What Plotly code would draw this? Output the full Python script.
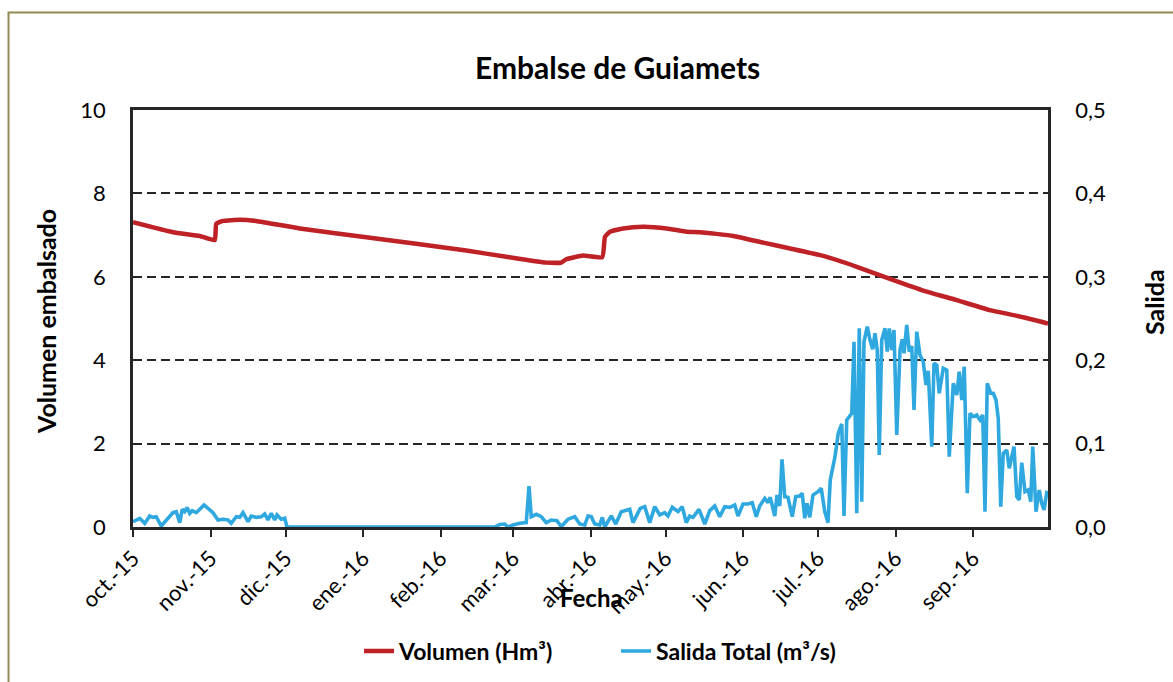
import pandas as pd
import plotly.graph_objects as go

# ---------------- data ----------------
start_date = "2015-10-01"

# Volumen embalsado (Hm3): day offset from 1-Oct-2015 and value
volumen_day = [0, 16, 26.7, 32.7, 33.3, 36, 42.7, 49.3, 66.7, 93.3, 133.3, 149.3,
               165.3, 171.3, 173.3, 180, 187.7, 188.8, 190.8, 196.1, 204.1, 213.5,
               221.5, 226.8, 240.1, 252.1, 262.8, 276.1, 289.5, 302.8, 316.1,
               329.5, 342.8, 356.1, 366]
volumen_val = [7.31, 7.07, 6.98, 6.88, 7.27, 7.34, 7.37, 7.34, 7.16, 6.95, 6.63, 6.48,
               6.34, 6.34, 6.42, 6.51, 6.47, 6.96, 7.08, 7.16, 7.20, 7.16,
               7.08, 7.07, 6.98, 6.82, 6.68, 6.50, 6.24, 5.95, 5.67,
               5.44, 5.20, 5.03, 4.88]

# Salida total (m3/s): day offset from 1-Oct-2015 and value
salida_day = [
    0, 2.7, 4.7, 6.7, 8.0, 9.3, 11.3, 13.3, 16.0, 17.3, 18.7, 19.7, 20.7, 21.6, 22.7,
    23.7, 25.3, 26.7, 28.4, 30.0, 32.0, 34.0, 36.0, 38.0, 39.3, 41.3, 42.7, 44.0, 46.0,
    47.3, 49.3, 51.3, 52.7, 54.0, 55.3, 56.7, 57.6, 59.3, 60.7, 61.6,
    144.7, 146.7, 148.7, 150.0, 152.0, 154.7, 157.3, 158.4, 159.3, 161.3, 163.3, 165.3,
    167.3, 169.6, 171.3, 174.0, 176.7, 178.7, 180.7, 182.0, 183.3, 184.7, 186.7, 187.7,
    188.7, 191.3, 193.1, 195.3, 197.3, 198.7, 200.0, 202.9, 204.7, 206.7, 208.7, 210.7,
    212.7, 214.0, 215.7, 218.0, 219.7, 221.3, 222.7, 224.0, 226.4, 228.7, 230.7, 232.7,
    234.7, 236.7, 238.7, 240.7, 242.0, 244.0, 246.0, 247.7, 249.3, 250.7, 252.7, 254.0,
    254.9, 256.7, 257.6, 258.7, 259.6, 260.7, 262.0, 263.7, 265.1, 266.7, 267.7, 268.7,
    269.6, 270.7, 272.0, 274.0, 275.3, 276.7, 278.0, 278.9, 280.8, 282.1, 283.5, 284.4,
    285.5, 287.5, 288.4, 289.5, 290.5, 291.5, 292.4, 293.7, 294.8, 295.9, 296.8, 297.7,
    298.5, 299.5, 300.8, 301.7, 302.5, 303.5, 304.4, 305.5, 306.8, 307.7, 308.4, 309.5,
    310.5, 311.5, 312.4, 313.5, 314.8, 316.1, 317.2, 318.1, 319.5, 320.4, 321.5, 322.5,
    324.1, 325.5, 326.5, 328.1, 329.5, 330.5, 331.5, 332.5, 333.7, 334.8, 336.1, 337.5,
    338.8, 339.9, 340.8, 341.7, 343.1, 344.1, 345.2, 346.1, 347.1, 348.1, 349.5, 350.5,
    352.4, 353.5, 354.5, 355.5, 356.8, 358.1, 359.1, 359.9, 361.2, 362.5, 363.5, 364.4,
    365.5, 366.0]
salida_val = [
    0.0064, 0.0104, 0.0044, 0.0132, 0.0116, 0.0124, 0.0012, 0.0084, 0.0172, 0.0184, 0.0052,
    0.0212, 0.0184, 0.0232, 0.0164, 0.0196, 0.0172, 0.0212, 0.0264, 0.0224, 0.0172, 0.0084,
    0.0092, 0.0084, 0.0044, 0.0124, 0.0116, 0.0172, 0.0064, 0.0132, 0.0116, 0.0124, 0.0156,
    0.0084, 0.0164, 0.0084, 0.0144, 0.0092, 0.0104, 0.0,
    0.0, 0.0030, 0.0036, 0.0, 0.0024, 0.0044, 0.0052, 0.0490, 0.0124, 0.0152, 0.0124, 0.0052,
    0.0084, 0.0076, 0.0004, 0.0092, 0.0124, 0.0036, 0.0024, 0.0132, 0.0124, 0.0036, 0.0024,
    0.0116, 0.0, 0.0132, 0.0036, 0.0184, 0.0196, 0.0212, 0.0052, 0.0224, 0.0244, 0.0052,
    0.0244, 0.0144, 0.0172, 0.0132, 0.0236, 0.0184, 0.0244, 0.0052, 0.0132, 0.0116, 0.0212,
    0.0036, 0.0196, 0.0252, 0.0124, 0.0244, 0.0236, 0.0264, 0.0132, 0.0276, 0.0276, 0.0292,
    0.0124, 0.0252, 0.0344, 0.0292, 0.0356, 0.0132, 0.0384, 0.0252, 0.0812, 0.0364, 0.0356,
    0.0124, 0.0364, 0.0372, 0.0404, 0.0104, 0.0284, 0.0116, 0.0384, 0.0424, 0.0464, 0.0184,
    0.0052, 0.0564, 0.0843, 0.1124, 0.1235, 0.0132, 0.1283, 0.1363, 0.2222, 0.0164, 0.2382,
    0.0303, 0.2222, 0.2402, 0.2242, 0.2131, 0.2322, 0.2122, 0.0863, 0.2242, 0.2382, 0.2102,
    0.2382, 0.2122, 0.2362, 0.1103, 0.2122, 0.2251, 0.2083, 0.2422, 0.2102, 0.2170, 0.1403,
    0.2342, 0.2062, 0.1982, 0.1703, 0.1874, 0.0963, 0.1963, 0.1942, 0.1603, 0.1903, 0.1882,
    0.0843, 0.1723, 0.1583, 0.1862, 0.1523, 0.1922, 0.0404, 0.1363, 0.1323, 0.1343, 0.1283,
    0.1343, 0.0184, 0.1723, 0.1603, 0.1603, 0.1523, 0.1303, 0.0244, 0.0883, 0.0923, 0.0703,
    0.0963, 0.0364, 0.0324, 0.0771, 0.0424, 0.0444, 0.0303, 0.0963, 0.0184, 0.0444, 0.0284,
    0.0204, 0.0411, 0.0404]

tick_dates = ["2015-10-01", "2015-11-01", "2015-12-01", "2016-01-01", "2016-02-01",
              "2016-03-01", "2016-04-01", "2016-05-01", "2016-06-01", "2016-07-01",
              "2016-08-01", "2016-09-01"]
tick_labels = ["oct.-15", "nov.-15", "dic.-15", "ene.-16", "feb.-16", "mar.-16",
               "abr.-16", "may.-16", "jun.-16", "jul.-16", "ago.-16", "sep.-16"]

# ---------------- figure ----------------
t0 = pd.Timestamp(start_date)
vol_dates = [t0 + pd.Timedelta(days=d) for d in volumen_day]
sal_dates = [t0 + pd.Timedelta(days=d) for d in salida_day]

FONT = "Lato"
DARK = "#262626"
RED = "#BE2126"
BLUE = "#2FA8DF"

fig = go.Figure()
fig.add_trace(go.Scatter(x=vol_dates, y=volumen_val, mode="lines", name="Volumen (Hm³)",
                         line=dict(color=RED, width=4.5, shape="spline", smoothing=0.4)))
fig.add_trace(go.Scatter(x=sal_dates, y=salida_val, mode="lines", name="Salida Total (m³/s)",
                         yaxis="y2", line=dict(color=BLUE, width=3.6)))

W, H = 1173, 682
PL, PR, PT, PB = 133, 1048, 110, 527   # plot area in page pixels
pw, ph = PR - PL, PB - PT


def px_x(x):
    return (x - PL) / pw


def px_y(y):
    return (PB - y) / ph


TICKF = dict(family=FONT, size=22, color="#000000")

fig.update_layout(
    width=W, height=H,
    margin=dict(l=PL, r=W - PR, t=PT, b=H - PB, autoexpand=False),
    paper_bgcolor="white", plot_bgcolor="white",
    separators=",.",
    font=dict(family=FONT, size=20, color="#000000"),
    showlegend=True,
    legend=dict(orientation="h", x=px_x(616), xanchor="center", y=px_y(651),
                yanchor="middle", font=dict(family=FONT, size=23, color="#000000",
                                             weight="bold"),
                entrywidth=212, entrywidthmode="pixels",
                tracegroupgap=0, bgcolor="rgba(0,0,0,0)"),
    xaxis=dict(type="date", range=["2015-10-01", "2016-10-01"],
               tickmode="array", tickvals=tick_dates, ticktext=tick_labels,
               tickangle=-45, ticks="outside", ticklen=7, tickwidth=2, tickcolor=DARK,
               showline=True, linewidth=2.5, linecolor=DARK, mirror=True,
               showgrid=False, zeroline=False, layer="below traces", automargin=False,
               tickfont=TICKF),
    yaxis=dict(range=[0, 10], dtick=2, tick0=0, ticks="", showline=True, linewidth=2.5,
               linecolor=DARK, showgrid=True, gridcolor=DARK, gridwidth=2,
               griddash="9px,5px", zeroline=False, ticklabelstandoff=20,
               automargin=False, tickfont=TICKF, layer="below traces"),
    yaxis2=dict(range=[0, 0.5], dtick=0.1, tick0=0, tickformat=".1f", overlaying="y",
                side="right", ticks="", showline=True, linewidth=2.5, linecolor=DARK,
                showgrid=False, zeroline=False, ticklabelstandoff=20,
                automargin=False, tickfont=TICKF),
    shapes=[dict(type="rect", xref="paper", yref="paper",
                 x0=px_x(8.5), x1=px_x(1200), y0=px_y(720), y1=px_y(12.5),
                 line=dict(color="#948A54", width=2), fillcolor="rgba(0,0,0,0)",
                 layer="below")],
    annotations=[
        dict(text="<b>Embalse de Guiamets</b>", xref="paper", yref="paper",
             x=px_x(617), y=px_y(67), xanchor="center", yanchor="middle",
             showarrow=False, font=dict(family=FONT, size=30, color="#000000")),
        dict(text="<b>Volumen embalsado</b>", xref="paper", yref="paper",
             x=px_x(46), y=px_y(322), xanchor="center", yanchor="middle", textangle=-90,
             showarrow=False, font=dict(family=FONT, size=25, color="#000000")),
        dict(text="<b>Salida</b>", xref="paper", yref="paper",
             x=px_x(1154), y=px_y(302), xanchor="center", yanchor="middle", textangle=-90,
             showarrow=False, font=dict(family=FONT, size=25, color="#000000")),
        dict(text="<b>Fecha</b>", xref="paper", yref="paper",
             x=px_x(591), y=px_y(597), xanchor="center", yanchor="middle",
             showarrow=False, font=dict(family=FONT, size=24, color="#000000")),
    ],
)

# remove the browser's default 8px page margin so the figure fills the window
fig.write_html("out.html",
               config={"displayModeBar": False},
               post_script="document.body.style.margin='0';"
                           "document.body.style.overflow='hidden';")
